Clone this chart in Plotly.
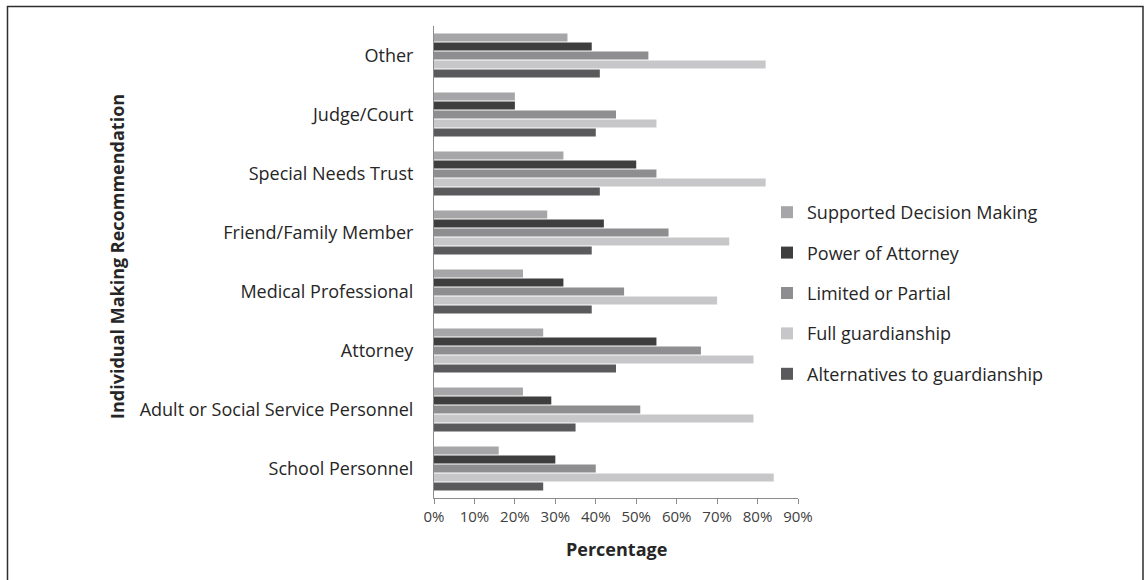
import plotly.graph_objects as go

categories = ["School Personnel", "Adult or Social Service Personnel", "Attorney",
              "Medical Professional", "Friend/Family Member", "Special Needs Trust",
              "Judge/Court", "Other"]

supported_decision = [16, 22, 27, 22, 28, 32, 20, 33]
power_of_attorney = [30, 29, 55, 32, 42, 50, 20, 39]
limited_partial = [40, 51, 66, 47, 58, 55, 45, 53]
full_guardianship = [84, 79, 79, 70, 73, 82, 55, 82]
alternatives = [27, 35, 45, 39, 39, 41, 40, 41]

series_names = ["Supported Decision Making", "Power of Attorney", "Limited or Partial",
                "Full guardianship", "Alternatives to guardianship"]
series_values = [supported_decision, power_of_attorney, limited_partial,
                 full_guardianship, alternatives]
series_colors = ["#a6a6a8", "#3e3e3e", "#8e8e90", "#c7c7c9", "#5a5a5c"]

tick_vals = [0, 10, 20, 30, 40, 50, 60, 70, 80, 90]
tick_text = [f"{v}%" for v in tick_vals]

FONT = "Open Sans"

fig = go.Figure()
# add in reverse so first series sits on top within each group
items = list(enumerate(zip(series_names, series_values, series_colors)))
for rank, (name, vals, col) in reversed(items):
    fig.add_trace(go.Bar(
        y=categories, x=vals, name=name, orientation="h",
        marker=dict(color=col, line=dict(width=0)),
        legendgroup=name, legendrank=rank + 1,
    ))

# plot area: x 434..798, y 26..498
L, R, T, B = 434, 798, 26, 498
W, H = 1144, 580
pw, ph = R - L, B - T

def px_x(p):
    return (p - L) / pw

def px_y(p):
    return (B - p) / ph

fig.update_layout(
    width=W, height=H,
    margin=dict(l=L, r=W - R, t=T, b=H - B, pad=0, autoexpand=False),
    paper_bgcolor="white", plot_bgcolor="white",
    barmode="group", bargap=0.237, bargroupgap=0.1,
    font=dict(family=FONT, color="#262626"),
    showlegend=True,
    legend=dict(
        xref="paper", yref="paper",
        x=px_x(767), y=px_y(293), xanchor="left", yanchor="middle",
        traceorder="grouped", tracegroupgap=14,
        font=dict(family=FONT, size=18, color="#262626"),
        itemclick=False,
    ),
    xaxis=dict(
        range=[0, 90], tickvals=tick_vals, ticktext=tick_text,
        showgrid=False, zeroline=False,
        showline=True, linecolor="#8c8c8c", linewidth=1,
        ticks="outside", ticklen=5, tickcolor="#8c8c8c",
        tickfont=dict(family=FONT, size=15, color="#404040"),
        automargin=False, fixedrange=True,
    ),
    yaxis=dict(
        showgrid=False, zeroline=False,
        showline=True, linecolor="#8c8c8c", linewidth=1,
        ticks="", ticklabelstandoff=16,
        tickfont=dict(family=FONT, size=18, color="#262626"),
        categoryorder="array", categoryarray=categories,
        automargin=False, fixedrange=True,
    ),
    annotations=[
        dict(text="<b>Percentage</b>", xref="paper", yref="paper",
             x=0.5, y=px_y(549), xanchor="center", yanchor="middle",
             showarrow=False, font=dict(family=FONT, size=18, color="#262626")),
        dict(text="<b>Individual Making Recommendation</b>", xref="paper", yref="paper",
             x=px_x(117), y=px_y(257), xanchor="center", yanchor="middle",
             textangle=-90, showarrow=False,
             font=dict(family=FONT, size=18, color="#262626")),
    ],
    shapes=[
        dict(type="rect", xref="paper", yref="paper",
             x0=px_x(7.5), x1=px_x(1143), y0=px_y(590), y1=px_y(6.5),
             line=dict(color="#2e2e2e", width=1.5), fillcolor="rgba(0,0,0,0)",
             layer="below"),
    ],
)

fig.write_html("out.html")
